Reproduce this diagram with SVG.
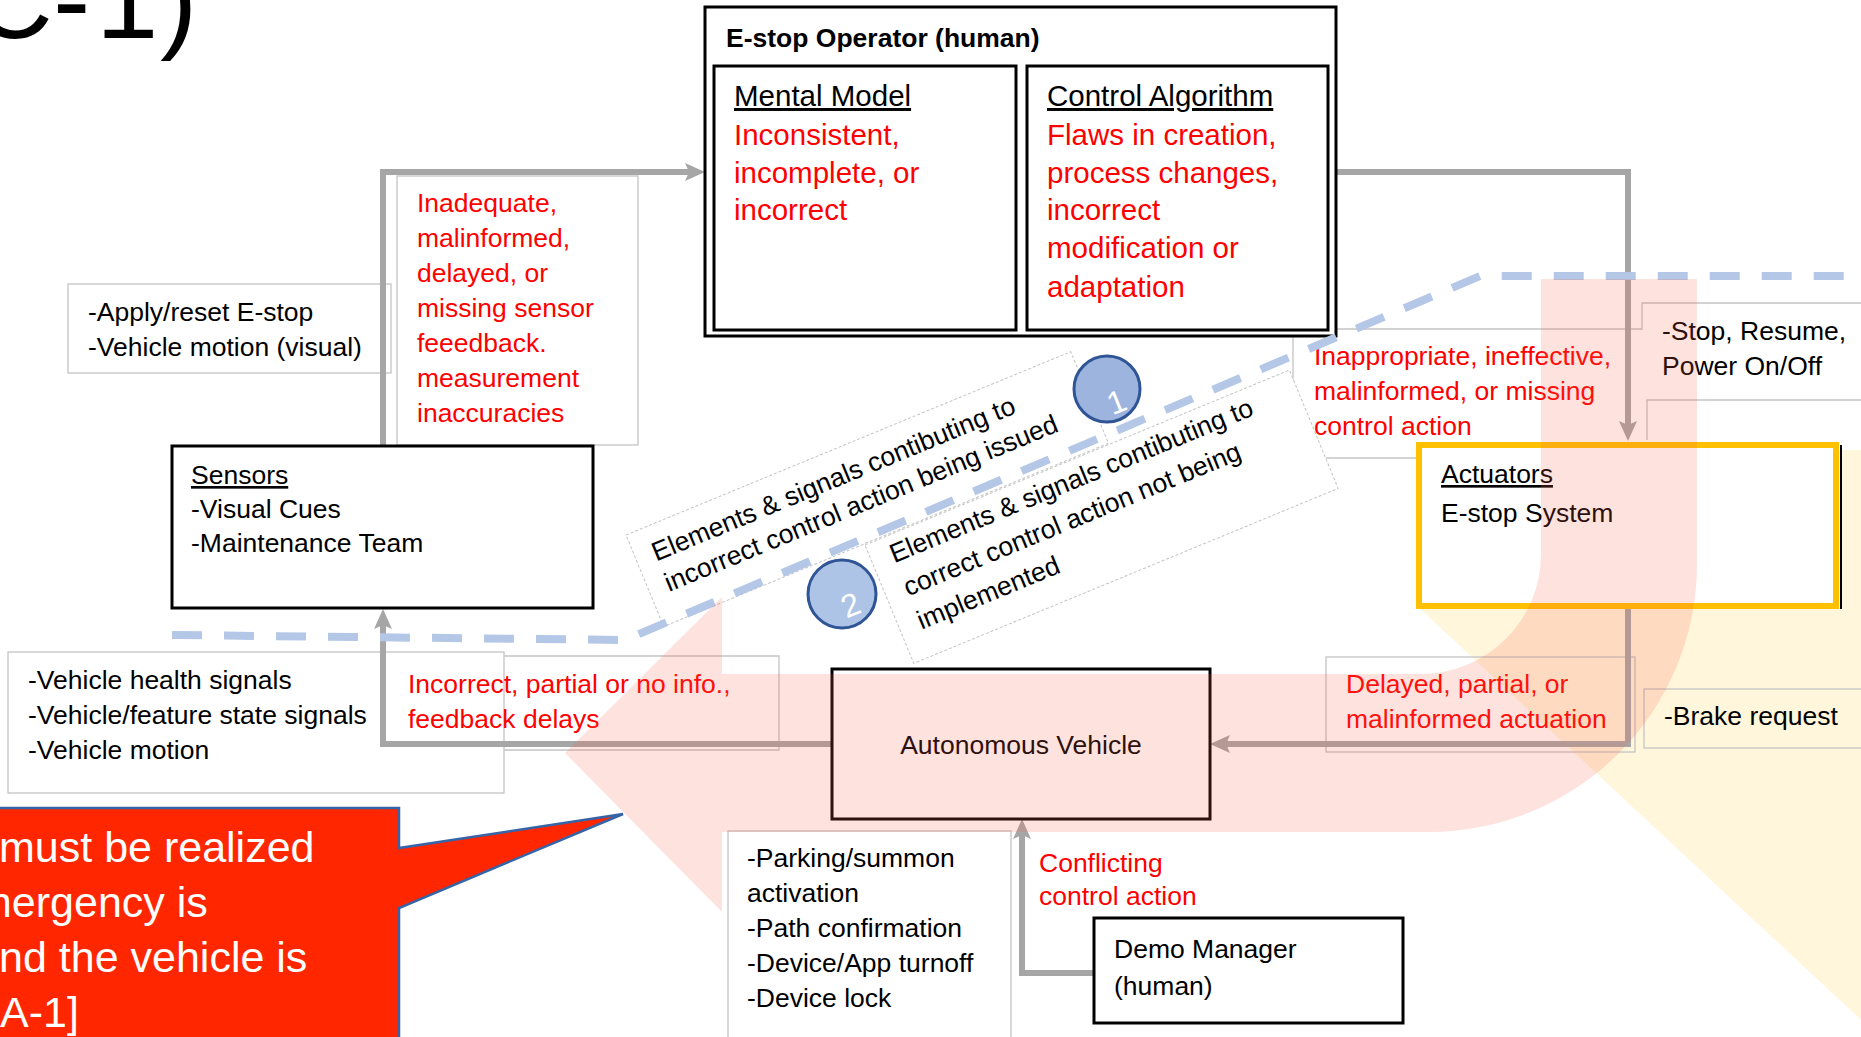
<svg xmlns="http://www.w3.org/2000/svg" width="1861" height="1037" viewBox="0 0 1861 1037">
<defs>
<style>
text{font-family:"Liberation Sans",Arial,sans-serif;}
.t{font-size:26.5px;fill:#000;}
.r{font-size:26.5px;fill:#ff0000;}
.big{font-size:29.5px;}
.u{text-decoration:underline;}
.node{fill:#fff;stroke:#000;stroke-width:3;}
.frame{fill:none;stroke:#c4c4c4;stroke-width:1.3;}
.rot{fill:#fff;stroke:#c4c4c4;stroke-width:1;stroke-dasharray:3 2;}
.conn{fill:none;stroke:#a6a6a6;stroke-width:6;marker-end:url(#head);}
.bubble{stroke:#2f5597;stroke-width:3;}
.num{font-size:32px;fill:#fff;text-anchor:middle;}
.call{font-size:43px;fill:#fff;}
</style>
<marker id="head" markerUnits="userSpaceOnUse" viewBox="0 0 20 20" refX="8" refY="10" markerWidth="20" markerHeight="20" orient="auto">
<path d="M0,1 L20,10 L0,19 L4,10 Z" fill="#a6a6a6"/>
</marker>
</defs>

<rect width="1861" height="1037" fill="#fff"/>

<!-- heading fragment, clipped at the top-left edge -->
<text x="-28 53 96 160" y="38" font-size="112" fill="#000">C-1)</text>

<!-- pale yellow wedge behind the actuator side -->
<polygon id="yellow-wedge" points="1416,605 1416,450 1861,450 1861,1020" fill="#ffc000" fill-opacity="0.14"/>

<!-- thin label frames -->
<g id="frames">
<rect class="frame" x="68" y="284" width="323" height="89"/>
<rect class="frame" x="397" y="176" width="241" height="269"/>
<rect class="frame" x="8" y="652" width="496" height="141"/>
<path class="frame" d="M504 656 H779 V750 H504"/>
<path class="frame" d="M1293 382 V329 H1642 V303 H1861"/>
<path class="frame" d="M1326 458 H1416"/>
<path class="frame" d="M1647 440 V400 H1861"/>
<rect class="frame" x="1326" y="657" width="309" height="95"/>
<rect class="frame" x="1644" y="689" width="230" height="59"/>
<rect class="frame" x="728" y="831" width="283" height="220"/>
</g>

<!-- rotated explanation boxes -->
<g id="box-incorrect-issued" transform="translate(626 535) rotate(-22.4)">
<rect class="rot" x="0" y="0" width="481" height="99"/>
<text class="t"><tspan x="18" y="36">Elements &amp; signals contibuting to</tspan><tspan x="18" y="69">incorrect control action being issued</tspan></text>
</g>
<g id="box-not-implemented" transform="translate(865 545) rotate(-22.4)">
<rect class="rot" x="0" y="0" width="459" height="128"/>
<text class="t"><tspan x="20" y="28">Elements &amp; signals contibuting to</tspan><tspan x="20" y="64">correct control action not being</tspan><tspan x="20" y="100">implemented</tspan></text>
</g>

<!-- connectors -->
<g id="connectors">
<path class="conn" d="M383 445 V172 H693"/>
<path class="conn" d="M1336 172 H1628 V429"/>
<path class="conn" d="M1628 609 V744 H1222"/>
<path class="conn" d="M832 744 H383 V621"/>
<path class="conn" d="M1094 973 H1022 V831"/>
</g>

<!-- nodes -->
<g id="operator">
<rect class="node" x="705" y="7" width="631" height="329"/>
<text class="t" x="726" y="47" font-size="27" font-weight="bold">E-stop Operator (human)</text>
</g>
<g id="mental-model">
<rect class="node" x="714" y="66" width="302" height="264"/>
<text class="t big u" x="734" y="106">Mental Model</text>
<text class="r big"><tspan x="734" y="145">Inconsistent,</tspan><tspan x="734" y="183">incomplete, or</tspan><tspan x="734" y="220">incorrect</tspan></text>
</g>
<g id="control-algorithm">
<rect class="node" x="1027" y="66" width="301" height="264"/>
<text class="t big u" x="1047" y="106">Control Algorithm</text>
<text class="r big"><tspan x="1047" y="145">Flaws in creation,</tspan><tspan x="1047" y="183">process changes,</tspan><tspan x="1047" y="220">incorrect</tspan><tspan x="1047" y="258">modification or</tspan><tspan x="1047" y="297">adaptation</tspan></text>
</g>
<g id="sensors">
<rect class="node" x="172" y="446" width="421" height="162"/>
<text class="t" font-size="25.5"><tspan class="u" x="191" y="484">Sensors</tspan><tspan x="191" y="518">-Visual Cues</tspan><tspan x="191" y="552">-Maintenance Team</tspan></text>
</g>
<g id="actuators">
<rect x="1419" y="445" width="417" height="161" fill="#fff" stroke="#ffc000" stroke-width="6"/>
<line x1="1841" y1="445" x2="1841" y2="609" stroke="#000" stroke-width="2"/>
<text class="t" font-size="28.5"><tspan class="u" x="1441" y="483">Actuators</tspan><tspan x="1441" y="522">E-stop System</tspan></text>
</g>
<g id="autonomous-vehicle">
<rect class="node" x="832" y="669" width="378" height="150"/>
<text class="t" x="1021" y="754" font-size="28.5" text-anchor="middle">Autonomous Vehicle</text>
</g>
<g id="demo-manager">
<rect class="node" x="1094" y="918" width="309" height="105"/>
<text class="t" font-size="28.5"><tspan x="1114" y="958">Demo Manager</tspan><tspan x="1114" y="995">(human)</tspan></text>
</g>

<!-- connector labels -->
<g id="labels">
<text class="t"><tspan x="88" y="321">-Apply/reset E-stop</tspan><tspan x="88" y="356">-Vehicle motion (visual)</tspan></text>
<text class="r"><tspan x="417" y="212">Inadequate,</tspan><tspan x="417" y="247">malinformed,</tspan><tspan x="417" y="282">delayed, or</tspan><tspan x="417" y="317">missing sensor</tspan><tspan x="417" y="352">feeedback.</tspan><tspan x="417" y="387">measurement</tspan><tspan x="417" y="422">inaccuracies</tspan></text>
<text class="r"><tspan x="1314" y="365">Inappropriate, ineffective,</tspan><tspan x="1314" y="400">malinformed, or missing</tspan><tspan x="1314" y="435">control action</tspan></text>
<text class="t" font-size="25.5"><tspan x="1662" y="340">-Stop, Resume,</tspan><tspan x="1662" y="375">Power On/Off</tspan></text>
<text class="t"><tspan x="28" y="689">-Vehicle health signals</tspan><tspan x="28" y="724">-Vehicle/feature state signals</tspan><tspan x="28" y="759">-Vehicle motion</tspan></text>
<text class="r"><tspan x="408" y="693">Incorrect, partial or no info.,</tspan><tspan x="408" y="728">feedback delays</tspan></text>
<text class="r"><tspan x="1346" y="693">Delayed, partial, or</tspan><tspan x="1346" y="728">malinformed actuation</tspan></text>
<text class="t" x="1664" y="725">-Brake request</text>
<text class="t" font-size="27"><tspan x="747" y="867">-Parking/summon</tspan><tspan x="747" y="902">activation</tspan><tspan x="747" y="937">-Path confirmation</tspan><tspan x="747" y="972">-Device/App turnoff</tspan><tspan x="747" y="1007">-Device lock</tspan></text>
<text class="r" font-size="27"><tspan x="1039" y="872">Conflicting</tspan><tspan x="1039" y="905">control action</tspan></text>
</g>

<!-- numbered markers -->
<g id="marker-1">
<circle class="bubble" cx="1107" cy="389" r="33" fill="#9db4de"/>
<text class="num" x="1116" y="413" transform="rotate(-22 1116 400)">1</text>
</g>
<g id="marker-2">
<circle class="bubble" cx="842" cy="594" r="34" fill="#aec4e6"/>
<text class="num" x="850" y="616" transform="rotate(-22 850 603)">2</text>
</g>

<!-- dashed boundary -->
<path id="boundary" d="M172 635 L625 640 L1480 276 H1861" fill="none" stroke="#b4c7e7" stroke-width="8" stroke-dasharray="30 22"/>

<!-- translucent U-turn arrow -->
<path id="u-turn-arrow" d="M565 753 L722 597 V674 H1421 A120 120 0 0 0 1541 554 V279 H1697 V564 A268 268 0 0 1 1429 832 H722 V912 Z" fill="#f8604a" fill-opacity="0.18"/>

<!-- callout -->
<g id="callout">
<path d="M-5 808 H399 V848 L623 814 L399 908 V1045 H-5 Z" fill="#ff2600" stroke="#3565a8" stroke-width="2.5"/>
<text class="call"><tspan x="-1" y="862">must be realized</tspan><tspan x="-24" y="917">mergency is</tspan><tspan x="-1" y="972">nd the vehicle is</tspan><tspan x="0" y="1027">A-1]</tspan></text>
</g>
</svg>
